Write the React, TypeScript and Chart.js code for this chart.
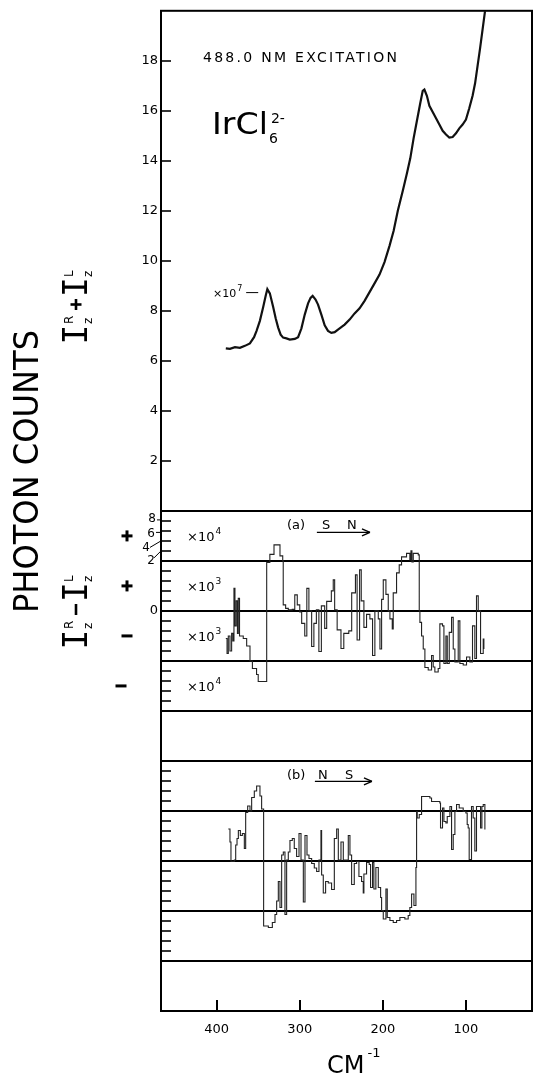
import React, { useEffect, useRef } from 'react';
import { Chart, registerables } from 'chart.js';

Chart.register(...registerables);

// ---------- data ----------
// upper panel: total emission I_z^R + I_z^L (x10^7 counts) vs wavenumber (cm^-1)
const upperWavenumbers = [389, 384, 378, 372, 366, 360, 355, 352, 348, 344, 341, 339, 336, 332, 329, 326, 323, 320, 316, 312, 306, 302, 298, 294, 290, 287, 284.5, 281, 278, 274, 270, 266, 262, 258, 254, 250, 246, 240, 234, 228, 222, 216, 210, 204, 198, 192, 187, 182, 176, 171, 167, 163, 159, 155, 152, 150, 147, 144, 140, 136, 132, 128, 124, 120, 116, 112, 108, 104, 100, 96, 92, 89, 86, 83, 80, 77];
const upperCounts = [6.5, 6.48, 6.55, 6.52, 6.6, 6.7, 6.95, 7.2, 7.6, 8.15, 8.6, 8.87, 8.7, 8.15, 7.7, 7.33, 7.05, 6.93, 6.9, 6.85, 6.88, 6.95, 7.3, 7.85, 8.3, 8.52, 8.6, 8.45, 8.25, 7.85, 7.42, 7.2, 7.12, 7.15, 7.25, 7.35, 7.45, 7.65, 7.9, 8.1, 8.4, 8.75, 9.1, 9.45, 9.95, 10.6, 11.2, 12.0, 12.8, 13.5, 14.1, 14.9, 15.6, 16.3, 16.8, 16.85, 16.6, 16.2, 15.95, 15.7, 15.45, 15.2, 15.05, 14.93, 14.95, 15.1, 15.3, 15.45, 15.65, 16.1, 16.6, 17.1, 17.8, 18.5, 19.25, 20.0];

// panel (a): difference signal, in band units (0 = zero rule, +-1 = next rules)
const panelAWavenumbers = [389.0, 387.5, 386.0, 384.0, 382.0, 380.5, 379.2, 378.0, 376.5, 375.0, 374.0, 372.5, 368.0, 363.9, 359.9, 357.0, 352.0, 350.0, 340.5, 339.8, 336.0, 331.0, 327.0, 323.8, 320.5, 319.9, 317.0, 313.8, 309.0, 306.0, 303.0, 300.0, 297.7, 294.0, 291.5, 289.0, 285.7, 283.0, 280.0, 277.0, 274.0, 270.0, 267.6, 262.0, 259.7, 258.0, 255.0, 250.4, 247.0, 241.0, 237.5, 233.0, 231.0, 228.0, 226.0, 222.8, 219.6, 215.6, 212.4, 209.6, 205.5, 203.5, 201.5, 199.5, 196.3, 193.5, 191.5, 188.7, 187.5, 183.5, 180.3, 177.5, 171.5, 167.5, 166.2, 165.0, 163.4, 157.4, 156.2, 155.4, 153.4, 151.4, 149.4, 145.4, 141.4, 139.4, 137.4, 133.4, 131.4, 128.2, 126.5, 124.1, 122.5, 120.1, 117.3, 115.3, 113.3, 109.3, 107.3, 103.3, 99.3, 95.3, 92.1, 89.3, 87.3, 85.2, 82.4, 79.2, 78.4];
const panelAValues = [-0.55, -0.85, -0.5, -0.8, -0.45, -0.6, 0.45, -0.3, 0.2, -0.45, 0.25, -0.5, -0.55, -0.7, -1.0, -1.15, -1.27, -1.41, -1.41, 0.97, 1.13, 1.32, 1.32, 1.1, 1.0, 0.12, 0.05, 0.02, 0.03, 0.32, 0.12, -0.02, -0.25, -0.5, 0.45, 0.0, -0.71, -0.25, 0.02, -0.81, 0.1, -0.35, 0.19, 0.4, 0.62, 0.02, -0.38, -0.75, -0.45, -0.4, 0.36, 0.72, -0.58, 0.82, 0.2, -0.33, -0.07, -0.16, -0.89, 0.0, -0.16, -0.76, 0.23, 0.62, 0.33, 0.0, -0.16, -0.36, 0.36, 0.76, 0.92, 1.08, 1.15, 1.02, 1.2, 0.98, 1.15, 1.12, 0.0, -0.23, -0.5, -0.76, -1.13, -1.18, -0.89, -1.12, -1.22, -1.15, -0.26, -0.3, -1.05, -0.5, -1.05, -0.43, -0.13, -0.76, -1.02, -0.2, -1.05, -1.08, -0.92, -1.02, -0.3, -0.95, 0.3, 0.0, -0.85, -0.56, -0.76];

// panel (b): difference signal, same units
const panelBWavenumbers = [386.0, 384.0, 382.8, 378.7, 377.1, 375.5, 373.9, 371.5, 369.1, 366.7, 365.1, 362.7, 359.9, 357.9, 354.7, 351.9, 347.9, 345.9, 343.5, 337.8, 333.0, 329.8, 327.8, 325.8, 323.8, 321.8, 319.8, 317.8, 315.8, 313.8, 311.8, 309.0, 306.6, 303.8, 300.9, 298.5, 295.7, 293.7, 291.3, 288.9, 285.7, 282.5, 279.7, 276.9, 274.5, 273.7, 271.7, 268.9, 265.7, 261.7, 258.4, 255.6, 253.6, 250.4, 247.6, 241.6, 239.6, 237.6, 234.4, 231.6, 228.8, 225.6, 223.6, 222.8, 219.6, 216.4, 214.8, 212.4, 210.8, 208.4, 205.5, 202.7, 201.5, 199.5, 196.3, 194.7, 191.5, 187.5, 183.5, 179.5, 173.5, 169.5, 167.5, 165.4, 162.6, 160.2, 159.4, 158.6, 156.2, 153.4, 147.4, 143.4, 141.4, 131.4, 130.6, 128.2, 126.5, 124.1, 122.5, 119.3, 117.3, 115.3, 113.3, 111.3, 108.1, 103.3, 100.1, 98.5, 97.3, 96.1, 93.3, 91.3, 89.3, 87.3, 84.4, 82.4, 80.8, 79.2, 77.2];
const panelBValues = [0.64, 0.38, -0.01, 0.02, 0.32, 0.45, 0.61, 0.51, 0.55, 0.25, 0.97, 1.1, 1.0, 1.27, 1.4, 1.5, 1.3, 1.04, -1.3, -1.33, -1.23, -1.07, -0.8, -0.41, -0.93, 0.12, 0.18, -1.07, 0.02, 0.18, 0.41, 0.45, 0.25, 0.09, 0.55, 0.02, -0.82, 0.51, 0.12, 0.05, -0.05, -0.14, -0.21, 0.02, 0.61, -0.28, -0.64, -0.41, -0.44, -0.57, 0.45, 0.64, 0.02, 0.38, 0.02, 0.51, 0.12, -0.47, -0.05, -0.01, -0.31, -0.41, -0.64, -0.26, -0.03, -0.07, -0.53, -0.03, -0.56, -0.13, -0.53, -0.73, -0.99, -1.16, -0.56, -1.13, -1.19, -1.23, -1.19, -1.13, -1.16, -1.09, -0.93, -0.66, -0.89, -0.13, 0.99, 0.86, 0.93, 1.29, 1.29, 1.26, 1.19, 1.16, 0.66, 1.06, 0.79, 0.76, 0.89, 1.09, 0.23, 0.53, 0.99, 1.13, 1.06, 0.99, 0.96, 0.73, 0.66, 0.03, 1.09, 0.86, 0.2, 1.09, 1.09, 0.66, 1.09, 1.13, 0.63];

// axes
const xTickValues = [400, 300, 200, 100];
const upperTickValues = [2, 4, 6, 8, 10, 12, 14, 16, 18];
const differenceRules = [0, -2, -4, -6, -8, -10, -12, -14, -16, -18];
const bandFactors = ['4', '3', '3', '4'];
const bandSigns = ['+', '+', '-', '-'];
const logLabels = ['8', '6', '4', '2'];

// layout of the stacked panels on the shared y scale
const PANEL_A_ZERO = -4;
const PANEL_B_ZERO = -14;
const BAND = 2;

const FONT = '"DejaVu Sans"';

function seg(ctx: any, x1: number, y1: number, x2: number, y2: number) {
  ctx.beginPath();
  ctx.moveTo(x1, y1);
  ctx.lineTo(x2, y2);
  ctx.stroke();
}

function supText(ctx: any, base: string, sup: string, x: number, yMid: number, size: number) {
  ctx.font = `${size}px ${FONT}`;
  ctx.textAlign = 'left';
  ctx.textBaseline = 'alphabetic';
  const base0 = yMid + size * 0.36;
  ctx.fillText(base, x, base0);
  const w = ctx.measureText(base).width;
  ctx.font = `${Math.round(size * 0.7)}px ${FONT}`;
  ctx.fillText(sup, x + w + 1, base0 - size * 0.5);
}

function arrow(ctx: any, x1: number, x2: number, y: number) {
  ctx.lineWidth = 1.3;
  seg(ctx, x1, y, x2, y);
  seg(ctx, x2, y, x2 - 8, y - 3.5);
  seg(ctx, x2, y, x2 - 8, y + 3.5);
}

function intensityLabel(ctx: any, baseX: number, startY: number, op: string) {
  ctx.save();
  ctx.translate(baseX, startY);
  ctx.rotate(-Math.PI / 2);
  ctx.fillStyle = '#000';
  ctx.strokeStyle = '#000';
  ctx.textBaseline = 'alphabetic';
  ctx.textAlign = 'center';
  ctx.font = '33px "DejaVu Sans Mono"';
  ctx.fillText('I', 7.5, 0);
  ctx.textAlign = 'left';
  ctx.font = `12px ${FONT}`;
  ctx.fillText('R', 18, -14);
  ctx.fillText('z', 18, 5);
  ctx.lineWidth = 2.6;
  seg(ctx, 32, -11, 43, -11);
  if (op === '+') seg(ctx, 37.5, -16.5, 37.5, -5.5);
  ctx.textAlign = 'center';
  ctx.font = '33px "DejaVu Sans Mono"';
  ctx.fillText('I', 55, 0);
  ctx.textAlign = 'left';
  ctx.font = `12px ${FONT}`;
  ctx.fillText('L', 65, -14);
  ctx.fillText('z', 65, 5);
  ctx.restore();
}

const decorations = {
  id: 'decorations',
  beforeDatasetsDraw(chart: any) {
    const { ctx, chartArea: a } = chart;
    const xs = chart.scales.x;
    const ys = chart.scales.y;
    ctx.save();
    ctx.strokeStyle = '#000';
    ctx.lineWidth = 2;
    differenceRules.forEach((v) => {
      const p = Math.round(ys.getPixelForValue(v));
      seg(ctx, a.left, p, a.right, p);
    });
    ctx.strokeRect(a.left, a.top, a.right - a.left, a.bottom - a.top);
    ctx.lineWidth = 1.6;
    upperTickValues.forEach((v) => {
      const p = Math.round(ys.getPixelForValue(v));
      seg(ctx, a.left, p, a.left + 10, p);
    });
    // minor ticks in the two difference panels (every 0.4 units)
    [PANEL_A_ZERO + BAND * 2, PANEL_B_ZERO + BAND * 2].forEach((top) => {
      for (let k = 1; k < 20; k++) {
        if (k % 5 === 0) continue;
        const p = Math.round(ys.getPixelForValue(top - k * 0.4));
        seg(ctx, a.left, p, a.left + 10, p);
      }
    });
    ctx.lineWidth = 2;
    xTickValues.forEach((v) => {
      const p = Math.round(xs.getPixelForValue(v));
      seg(ctx, p, a.bottom, p, a.bottom - 11);
    });
    ctx.restore();
  },
  afterDraw(chart: any) {
    const { ctx } = chart;
    const xs = chart.scales.x;
    const ys = chart.scales.y;
    const px = (v: number) => xs.getPixelForValue(v);
    const py = (v: number) => ys.getPixelForValue(v);
    ctx.save();
    ctx.fillStyle = '#000';
    ctx.strokeStyle = '#000';

    // title text
    ctx.font = `14px ${FONT}`;
    ctx.textAlign = 'left';
    ctx.textBaseline = 'middle';
    const t1 = '488.0 NM EXCITATION';
    const w1 = ctx.measureText(t1).width;
    (ctx as any).letterSpacing = `${Math.max(0, (194 - w1) / (t1.length - 1))}px`;
    ctx.fillText(t1, px(416.5), py(18.1));
    (ctx as any).letterSpacing = '0px';

    // IrCl6 2-
    ctx.save();
    ctx.textBaseline = 'alphabetic';
    ctx.font = `30px ${FONT}`;
    const wI = ctx.measureText('IrCl').width;
    const ix = px(405.7);
    const iy = py(15.08);
    ctx.translate(ix, iy);
    ctx.scale(56 / wI, 1);
    ctx.fillText('IrCl', 0, 0);
    ctx.restore();
    ctx.font = `14px ${FONT}`;
    ctx.textBaseline = 'alphabetic';
    ctx.fillText('6', ix + 57, iy + 9);
    ctx.fillText('2-', ix + 59, iy - 11);

    // x10^7 marker
    supText(ctx, '\u00d710', '7', px(404.5), py(8.73), 11);
    ctx.lineWidth = 1;
    seg(ctx, px(364.5), py(8.73), px(350), py(8.73));

    // band factors in panel (a)
    bandFactors.forEach((f, i) => {
      supText(ctx, '\u00d710', f, px(435.7), py(PANEL_A_ZERO + BAND * 1.5 - BAND * i), 13);
    });

    // (a) S N ->
    ctx.font = `13px ${FONT}`;
    ctx.textAlign = 'left';
    ctx.textBaseline = 'middle';
    ctx.fillText('(a)', px(315.3), py(-0.58));
    ctx.fillText('S', px(273.2), py(-0.58));
    ctx.fillText('N', px(243), py(-0.58));
    arrow(ctx, px(279.4), px(215.5), py(-0.86));
    // (b) N S ->
    ctx.font = `13px ${FONT}`;
    ctx.fillText('(b)', px(315.3), py(-10.57));
    ctx.fillText('N', px(278), py(-10.57));
    ctx.fillText('S', px(245.6), py(-10.57));
    arrow(ctx, px(281.8), px(213.1), py(-10.82));

    // log labels next to panel (a) top band
    const left = chart.chartArea.left;
    ctx.font = `12px ${FONT}`;
    ctx.textAlign = 'center';
    ctx.textBaseline = 'middle';
    const logY = [-0.3, -0.9, -1.46, -1.98];
    const logX = [152, 151, 146, 151];
    logLabels.forEach((l, i) => ctx.fillText(l, logX[i], py(logY[i])));
    ctx.lineWidth = 1;
    seg(ctx, 157, py(-0.36), left, py(-0.36));
    seg(ctx, 156, py(-0.86), left, py(-0.86));
    seg(ctx, 150, py(-1.46), left, py(-1.2));
    seg(ctx, 154, py(-1.88), left, py(-1.6));

    // + / - signs
    ctx.lineWidth = 3;
    bandSigns.forEach((s, i) => {
      const yy = py(PANEL_A_ZERO + BAND * 1.5 - BAND * i);
      const cx = i === 3 ? 121 : 127;
      seg(ctx, cx - 5.5, yy, cx + 5.5, yy);
      if (s === '+') seg(ctx, cx, yy - 5.5, cx, yy + 5.5);
    });

    // rotated axis labels
    intensityLabel(ctx, 87, 342, '+');
    intensityLabel(ctx, 87, 647, '-');

    ctx.save();
    ctx.translate(38, 471.5);
    ctx.rotate(-Math.PI / 2);
    ctx.font = `34px ${FONT}`;
    ctx.textAlign = 'center';
    ctx.textBaseline = 'alphabetic';
    const wp = ctx.measureText('PHOTON COUNTS').width;
    ctx.scale(283 / wp, 1);
    ctx.fillText('PHOTON COUNTS', 0, 0);
    ctx.restore();

    // x axis title CM^-1
    ctx.font = `24px ${FONT}`;
    ctx.textAlign = 'left';
    ctx.textBaseline = 'alphabetic';
    ctx.fillText('CM', 327, 1073);
    const wc = ctx.measureText('CM').width;
    ctx.font = `13px ${FONT}`;
    ctx.fillText('-1', 327 + wc + 3, 1057);

    ctx.restore();
  },
};

export default function App() {
  const ref = useRef<HTMLCanvasElement>(null);
  useEffect(() => {
    const canvas = ref.current as HTMLCanvasElement;
    const upperData = upperWavenumbers.map((w, i) => ({ x: w, y: upperCounts[i] }));
    const aData = panelAWavenumbers.map((w, i) => ({ x: w, y: PANEL_A_ZERO + BAND * panelAValues[i] }));
    const bData = panelBWavenumbers.map((w, i) => ({ x: w, y: PANEL_B_ZERO + BAND * panelBValues[i] }));
    const chart = new Chart(canvas, {
      type: 'line',
      data: {
        datasets: [
          { data: upperData, borderColor: '#111', borderWidth: 2.2, pointRadius: 0, tension: 0 },
          { data: aData, borderColor: '#222', borderWidth: 1.1, pointRadius: 0, stepped: true },
          { data: bData, borderColor: '#222', borderWidth: 1.1, pointRadius: 0, stepped: true },
        ],
      } as any,
      options: {
        responsive: false,
        animation: false,
        devicePixelRatio: 1,
        layout: { padding: { left: 0, right: 4, top: 10, bottom: 0 } },
        plugins: { legend: { display: false }, tooltip: { enabled: false } },
        scales: {
          x: {
            type: 'linear',
            reverse: true,
            min: 20.5,
            max: 467,
            grid: { display: false, drawTicks: false },
            border: { display: false },
            afterBuildTicks: (s: any) => {
              s.ticks = xTickValues.map((v) => ({ value: v }));
            },
            afterFit: (s: any) => {
              s.height = 66;
            },
            ticks: {
              color: '#000',
              font: { family: 'DejaVu Sans', size: 13 },
              padding: 11,
              maxRotation: 0,
              autoSkip: false,
              callback: (v: any) => String(v),
            },
          },
          y: {
            type: 'linear',
            min: -20,
            max: 20,
            grid: { display: false, drawTicks: false },
            border: { display: false },
            afterBuildTicks: (s: any) => {
              s.ticks = [...upperTickValues.map((v) => ({ value: v })), { value: PANEL_A_ZERO }];
            },
            afterFit: (s: any) => {
              s.width = 161;
            },
            ticks: {
              color: '#000',
              font: { family: 'DejaVu Sans', size: 13 },
              padding: 3,
              autoSkip: false,
              callback: (v: any) => (v === PANEL_A_ZERO ? '0' : String(v)),
            },
          },
        },
      } as any,
      plugins: [decorations],
    });
    return () => chart.destroy();
  }, []);
  return (
    <div style={{ position: 'absolute', left: 0, top: 0, width: 536, height: 1077, background: '#fff' }}>
      <canvas ref={ref} width={536} height={1077} style={{ display: 'block' }} />
    </div>
  );
}
